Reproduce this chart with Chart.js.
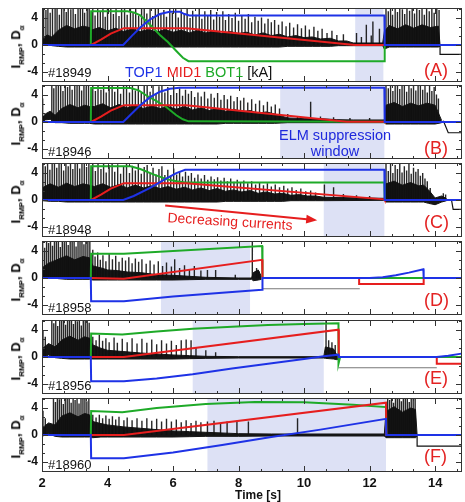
<!DOCTYPE html>
<html>
<head>
<meta charset="utf-8">
<script src="https://cdn.jsdelivr.net/npm/chart.js@4.4.1/dist/chart.umd.min.js"></script>
<style>
body { margin: 0; width: 465px; height: 502px; position: relative; overflow: hidden; background: #fff; font-family: "Liberation Sans", Arial, sans-serif; }
canvas { position: absolute; left: 0; }
.txt { position: absolute; white-space: nowrap; line-height: 1; transform: translateY(-50%); }
.shot { font-size: 13px; color: #111; left: 48px; }
.tag { font-size: 18px; color: #e32222; left: 424px; }
.ylab { position: absolute; left: 17px; font-size: 13px; font-weight: bold; white-space: nowrap; transform: translate(-50%, -50%) rotate(-90deg); }
.ylab sub { font-size: 8px; font-weight: bold; }
</style>
</head>
<body>

<script>
// ---- data (time in s, currents in kA, D-alpha in a.u.) ----
const xMajorTicks = [2, 4, 6, 8, 10, 12, 14];
const xMinorTicks = [2.67, 3.33, 4.67, 5.33, 6.67, 7.33, 8.67, 9.33, 10.67, 11.33, 12.67, 13.33, 14.67];
const yMajorTicks = [-4, 0, 4];
const yMinorTicks = [-5.33, -2.67, -1.33, 1.33, 2.67, 5.33];

const shots = ['#18949', '#18946', '#18948', '#18958', '#18956', '#18960'];
const tags = ['(A)', '(B)', '(C)', '(D)', '(E)', '(F)'];

// ELM suppression windows
const shadeA = [11.56, 12.42];
const shadeB = [9.27, 12.45];
const shadeC = [10.6, 12.45];
const shadeD = [5.63, 8.35];
const shadeE = [6.6, 10.6];
const shadeF = [7.05, 12.5];

// TOP1 (blue), MID1 (red), BOT1 (green) coil currents
const topA = [[2,0],[4.48,0],[4.75,1.4],[5.0,2.6],[5.3,3.8],[5.6,4.6],[5.9,4.95],[6.2,4.95],[6.35,4.6],[6.5,4.4],[12.45,4.4],[12.46,0],[14.8,0]];
const midA = [[2,0],[3.5,0],[3.8,0.8],[4.1,1.7],[4.5,2.5],[6.4,2.5],[11.55,0],[14.8,0]];
const botA = [[2,0],[3.49,0],[3.5,5],[4.6,5],[4.8,4.85],[5.0,4.4],[5.3,3.0],[5.6,1.5],[5.85,0.4],[6.1,-0.9],[6.3,-1.9],[6.47,-2.4],[12.45,-2.4],[12.46,0],[14.8,0]];

const topB = [[2,0],[4.48,0],[4.75,1.3],[5.0,2.5],[5.3,3.7],[5.6,4.5],[5.9,4.95],[6.2,5.1],[12.45,5.1],[12.46,0],[14.8,0]];
const midB = [[2,0],[3.5,0],[3.8,0.8],[4.1,1.7],[4.5,2.5],[6.4,2.5],[11.3,0.05],[12.45,0.05],[12.46,0],[14.8,0]];
const botB = [[2,0],[3.49,0],[3.5,5.05],[4.7,5.05],[4.95,4.7],[5.2,3.9],[5.5,3.1],[5.8,2.2],[6.1,1.0],[6.3,0.4],[6.47,0.1],[12.45,0.05],[12.46,0],[14.8,0]];

const topC = [[2,0],[4.48,0],[4.8,0.6],[5.3,1.8],[5.8,3.2],[6.1,4.0],[6.37,4.5],[12.45,4.5],[12.46,0],[14.8,0]];
const midC = [[2,0],[3.5,0],[3.8,0.8],[4.1,1.7],[4.5,2.5],[6.4,2.5],[12.45,0.1],[12.46,0],[14.8,0]];
const botC = [[2,0],[3.49,0],[3.5,5],[4.7,5],[5.0,4.6],[5.4,3.8],[5.8,3.1],[6.1,2.8],[6.37,2.6],[12.45,2.6],[12.46,0],[14.8,0]];

const topD = [[2,0],[3.49,0],[3.5,-3.45],[4.5,-3.45],[6.0,-2.75],[7.5,-2.2],[8.72,-1.75],[8.73,0],[12.0,0],[12.4,0.1],[12.8,0.4],[13.2,0.8],[13.64,1.3],[13.65,0],[14.8,0]];
const midD = [[2,0],[3.5,0],[4.5,-0.1],[8.72,2.7],[8.73,0],[11.68,0],[11.68,-0.9],[13.65,-0.9],[13.65,0],[14.8,0]];
const botD = [[2,0],[3.49,0],[3.5,3.6],[4.5,3.6],[8.72,4.75],[8.73,0],[14.8,0]];

const topE = [[2,0],[3.49,0],[3.5,-3.6],[4.5,-3.6],[5.5,-3.2],[6.6,-2.55],[7.8,-1.7],[8.9,-1.0],[10.0,-0.3],[10.6,0.1],[11.05,0.35],[11.06,0],[14.05,0],[14.4,0.2],[14.8,0.5]];
const midE = [[2,0],[3.5,0],[4.5,0],[11.05,4.05],[11.06,0],[14.05,0],[14.05,-1.0],[14.8,-1.0]];
const botE = [[2,0],[3.49,0],[3.5,3.5],[4.45,3.35],[5.5,3.8],[6.6,4.2],[7.8,4.5],[8.9,4.75],[10.0,4.9],[11.05,5.0],[11.05,-1.0],[11.1,0],[14.8,0]];

const topF = [[2,0],[3.49,0],[3.5,-3.45],[4.5,-3.45],[6.0,-2.6],[7.5,-1.5],[9.0,-0.3],[10.5,0.8],[12.5,2.4],[12.51,0],[14.8,0]];
const midF = [[2,0],[3.5,0],[4.5,0],[12.5,4.8],[12.51,0],[14.8,0]];
const botF = [[2,0],[3.49,0],[3.5,3.55],[4.45,3.4],[5.5,4.0],[7.0,4.6],[8.5,4.9],[10.0,4.85],[11.5,4.5],[12.5,4.15],[12.51,0],[14.8,0]];

// D-alpha: dense band [t, low, high]
const bandA = [[2.0,-0.1,0.6],[2.15,0.2,1.5],[2.3,-0.1,1.2],[2.5,-0.2,2.2],[2.75,-0.3,2.9],[3.0,-0.3,2.4],[3.25,-0.3,2.8],[3.45,-0.3,2.6],[3.5,-0.3,2.2],[3.75,-0.3,2.6],[4.0,-0.3,2.1],[4.25,-0.3,2.5],[4.5,-0.3,2.0],[4.75,-0.3,2.4],[5.0,-0.3,2.0],[5.25,-0.3,2.3],[5.5,-0.3,1.9],[5.75,-0.3,2.3],[6.0,-0.3,1.9],[6.25,-0.3,2.2],[6.5,-0.3,1.8],[6.75,-0.3,2.2],[7.0,-0.3,1.8],[7.25,-0.3,2.1],[7.5,-0.3,1.7],[7.75,-0.3,2.0],[8.0,-0.3,1.7],[8.25,-0.3,1.9],[8.5,-0.3,1.5],[8.75,-0.3,1.8],[9.0,-0.3,1.4],[9.25,-0.3,1.6],[9.5,-0.2,1.2],[9.75,-0.2,1.4],[10.0,-0.2,1.1],[10.25,-0.2,1.2],[10.5,-0.2,0.9],[10.8,-0.2,1.0],[11.05,-0.1,0.6],[11.3,-0.1,0.6],[11.5,-0.1,0.3],[12.4,-0.1,0.3],[12.45,-0.6,2.0],[12.6,-0.3,2.9],[12.85,-0.3,2.4],[13.1,-0.3,3.0],[13.35,-0.3,2.5],[13.6,-0.3,3.0],[13.85,-0.3,2.6],[14.1,-0.3,2.8],[14.15,-0.2,0]];
const bandB = [[2.0,0,0.5],[2.1,0.3,1.2],[2.25,0.4,1.6],[2.4,-0.1,1.0],[2.6,-0.1,2.0],[2.85,-0.2,2.6],[3.1,-0.2,2.1],[3.3,-0.2,2.5],[3.45,-0.2,2.3],[3.6,-0.3,2.3],[3.85,-0.3,2.7],[4.1,-0.3,2.1],[4.35,-0.3,2.6],[4.6,-0.3,2.1],[4.85,-0.3,2.5],[5.1,-0.3,2.0],[5.35,-0.3,2.4],[5.6,-0.3,2.0],[5.85,-0.3,2.3],[6.1,-0.3,1.9],[6.35,-0.3,2.3],[6.6,-0.3,1.8],[6.85,-0.3,2.1],[7.1,-0.3,1.7],[7.35,-0.3,2.0],[7.6,-0.2,1.6],[7.85,-0.2,1.9],[8.1,-0.2,1.5],[8.35,-0.2,1.7],[8.6,-0.2,1.3],[8.85,-0.2,1.5],[9.1,-0.2,1.2],[9.3,-0.15,0.9],[9.5,-0.1,0.6],[10.0,-0.1,0.5],[10.5,-0.1,0.5],[11.0,-0.1,0.35],[11.5,-0.1,0.3],[12.45,-0.1,0.3],[12.5,-0.3,2.5],[12.75,-0.3,2.9],[13.0,-0.3,2.3],[13.25,-0.3,2.8],[13.5,-0.3,2.4],[13.75,-0.3,2.8],[14.0,-0.3,2.5],[14.2,-0.1,0.2]];
const bandC = [[2.0,-0.1,1.8],[2.25,-0.2,2.4],[2.5,-0.2,1.9],[2.75,-0.3,2.5],[3.0,-0.3,2.0],[3.25,-0.3,2.4],[3.45,-0.3,2.2],[3.6,-0.3,2.0],[3.85,-0.3,2.4],[4.1,-0.3,1.9],[4.35,-0.3,2.3],[4.6,-0.3,1.8],[4.85,-0.3,2.2],[5.1,-0.3,1.8],[5.35,-0.3,2.1],[5.6,-0.3,1.7],[5.85,-0.3,2.0],[6.1,-0.3,1.6],[6.35,-0.3,1.9],[6.6,-0.3,1.5],[6.85,-0.3,1.8],[7.1,-0.3,1.4],[7.35,-0.3,1.7],[7.6,-0.2,1.3],[7.85,-0.2,1.5],[8.1,-0.2,1.2],[8.35,-0.2,1.4],[8.6,-0.2,1.0],[8.85,-0.2,1.2],[9.1,-0.2,0.9],[9.35,-0.2,1.0],[9.6,-0.1,0.7],[9.85,-0.1,0.8],[10.1,-0.1,0.6],[10.35,-0.1,0.6],[10.6,-0.1,0.4],[12.45,-0.05,0.25],[12.5,-0.3,2.4],[12.75,-0.3,2.8],[13.0,-0.3,2.2],[13.25,-0.3,2.6],[13.5,-0.3,2.1],[13.65,-0.3,2.2],[13.8,-0.5,1.5],[14.0,-0.7,0.3],[14.2,-0.3,0.6],[14.35,-0.1,0.2]];
const bandD = [[2.0,-0.1,1.5],[2.2,0.2,2.2],[2.5,-0.1,2.8],[2.75,-0.2,3.3],[3.0,-0.2,2.7],[3.25,-0.2,3.2],[3.45,-0.2,3.0],[3.55,-0.3,1.8],[3.8,-0.3,1.5],[4.0,-0.3,1.2],[4.3,-0.3,1.1],[4.6,-0.3,0.9],[5.0,-0.3,0.8],[5.5,-0.3,0.5],[6.0,-0.3,0.4],[6.5,-0.25,0.25],[7.0,-0.2,0.1],[8.0,-0.2,0.0],[8.4,-0.2,0.0],[8.45,-0.4,0.8],[8.6,-0.3,1.2],[8.7,-0.2,0.2]];
const bandE = [[2.0,-0.1,1.2],[2.2,0.3,2.0],[2.4,-0.1,1.5],[2.6,-0.2,2.5],[2.85,-0.3,3.1],[3.1,-0.3,2.5],[3.3,-0.3,3.0],[3.45,-0.3,2.8],[3.55,-0.3,1.8],[3.8,-0.3,1.3],[4.0,-0.3,1.0],[4.5,-0.3,0.8],[5.0,-0.3,0.6],[5.5,-0.3,0.45],[6.0,-0.3,0.3],[6.5,-0.25,0.2],[7.0,-0.2,0.1],[8.0,-0.15,0.05],[10.6,-0.15,0.05],[10.65,-0.2,1.5],[10.9,-0.3,1.2],[11.0,-0.4,0.3],[11.05,-0.3,0]];
const bandF = [[2.0,-0.2,1.0],[2.2,0.2,1.8],[2.4,-0.2,1.5],[2.6,-0.3,2.8],[2.85,-0.3,3.3],[3.1,-0.3,2.7],[3.3,-0.3,3.2],[3.45,-0.3,3.0],[3.55,-0.4,2.0],[3.8,-0.3,1.7],[4.0,-0.3,1.5],[4.5,-0.3,1.2],[5.0,-0.3,1.0],[5.5,-0.3,0.8],[6.0,-0.3,0.6],[6.5,-0.25,0.5],[7.0,-0.2,0.4],[8.0,-0.2,0.2],[9.0,-0.15,0.15],[12.45,-0.15,0.15],[12.5,-0.4,3.5],[12.75,-0.4,4.2],[13.0,-0.4,3.4],[13.25,-0.4,4.0],[13.4,-0.4,3.8],[13.45,-0.2,0]];

// D-alpha: ELM spikes [t, peak]
const spikesA = [[2.05,6],[2.12,5.2],[2.18,6],[2.25,4.8],[2.32,6],[2.4,5.5],[2.46,6],[2.53,4.5],[2.6,6],[2.67,5.8],[2.74,4.9],[2.8,6],[2.88,5.3],[2.95,6],[3.02,4.6],[3.1,6],[3.17,5.5],[3.24,6],[3.3,4.8],[3.38,6],[3.44,5.6],
  [3.55,6],[3.62,4.4],[3.7,5.8],[3.78,4.9],[3.86,6],[3.93,4.2],[4.0,5.5],[4.1,6],[4.18,4.6],[4.26,5.9],[4.35,4.3],[4.43,5.6],[4.52,6],[4.6,4.5],[4.7,5.7],[4.78,4.9],[4.86,6],[4.95,4.4],[5.04,5.5],[5.12,6],[5.2,4.7],[5.3,5.8],[5.38,4.3],[5.46,5.4],[5.55,6],[5.63,4.6],[5.72,5.2],[5.8,4.2],[5.9,5.7],[5.98,4.8],
  [6.08,5.5],[6.16,4.1],[6.25,5.3],[6.34,4.6],[6.43,5.6],[6.52,4.0],[6.6,5.1],[6.7,4.5],[6.8,5.4],[6.88,3.9],[6.97,5.0],[7.06,4.4],[7.15,5.2],[7.24,3.8],[7.33,4.9],[7.42,4.2],[7.52,5.0],[7.6,3.7],[7.7,4.6],[7.8,4.0],[7.9,4.8],[8.0,3.6],[8.1,4.4],[8.2,3.9],[8.3,4.6],[8.4,3.4],[8.5,4.2],[8.6,3.6],[8.7,4.1],[8.8,3.2],[8.9,3.9],
  [9.0,3.4],[9.1,3.7],[9.22,3.0],[9.33,3.5],[9.45,2.8],[9.56,3.3],[9.68,2.6],[9.8,3.1],[9.92,2.5],[10.04,2.9],[10.16,2.3],[10.3,2.7],[10.42,2.1],[10.55,2.4],[10.7,1.8],[10.85,2.1],[11.0,1.5],[11.2,1.6],[11.6,1.8],[11.75,1.2],[11.9,3.0],[12.05,1.4],[12.1,3.5],[12.3,2.4],
  [12.5,6],[12.57,5.0],[12.64,6],[12.7,4.5],[12.78,5.8],[12.85,4.9],[12.92,6],[13.0,5.3],[13.07,4.6],[13.14,6],[13.22,5.1],[13.3,5.8],[13.37,4.7],[13.44,6],[13.52,5.2],[13.6,5.7],[13.67,4.5],[13.74,6],[13.82,5.0],[13.9,5.6],[13.97,4.8],[14.05,5.9],[14.12,5.2]];
const spikesB = [[2.02,3.5],[2.3,6],[2.36,5.0],[2.43,6],[2.5,5.4],[2.57,6],[2.64,4.6],[2.71,6],[2.78,5.2],[2.85,6],[2.92,4.8],[3.0,6],[3.07,5.5],[3.14,6],[3.21,4.7],[3.28,6],[3.35,5.3],[3.42,6],
  [3.55,6],[3.63,4.6],[3.71,5.8],[3.8,4.8],[3.88,6],[3.96,4.4],[4.05,5.6],[4.14,6],[4.22,4.5],[4.31,5.7],[4.4,4.2],[4.49,5.5],[4.58,6],[4.67,4.4],[4.76,5.6],[4.85,4.7],[4.94,6],[5.03,4.3],[5.12,5.4],[5.21,5.9],[5.3,4.5],[5.39,5.6],[5.48,4.2],[5.57,5.3],[5.66,5.8],[5.75,4.4],[5.84,5.2],[5.93,4.0],
  [6.02,5.5],[6.11,4.3],[6.2,5.0],[6.29,3.9],[6.38,4.8],[6.47,4.2],[6.56,4.6],[6.66,3.7],[6.76,4.4],[6.86,3.8],[6.96,4.5],[7.06,3.5],[7.16,4.2],[7.26,3.6],[7.36,4.3],[7.46,3.3],[7.56,4.0],[7.66,3.4],[7.76,3.9],[7.86,3.1],[7.96,3.7],[8.06,3.2],[8.16,3.6],[8.28,2.9],[8.4,3.4],[8.52,2.7],[8.64,3.2],[8.76,2.5],[8.88,3.0],
  [9.0,2.3],[9.12,2.6],[9.25,2.0],[9.5,1.2],[9.8,0.9],[10.2,3.0],[10.5,0.8],[10.9,0.7],[11.4,0.6],[12.0,0.6],
  [12.5,6],[12.57,5.0],[12.64,6],[12.71,4.6],[12.78,5.7],[12.85,6],[12.92,4.9],[12.99,5.5],[13.06,6],[13.13,4.5],[13.2,5.8],[13.27,5.0],[13.34,6],[13.41,4.7],[13.48,5.6],[13.55,6],[13.62,4.8],[13.69,5.4],[13.76,4.4],[13.83,5.9],[13.9,4.6],[13.97,5.2],[14.04,4.1],[14.1,3.5]];
const spikesC = [[2.03,6],[2.1,5.0],[2.17,6],[2.24,4.5],[2.31,5.7],[2.38,6],[2.45,4.8],[2.52,5.5],[2.59,6],[2.66,4.4],[2.73,5.8],[2.8,5.0],[2.87,6],[2.94,4.6],[3.01,5.4],[3.08,6],[3.15,4.7],[3.22,5.6],[3.29,6],[3.36,4.9],[3.43,5.5],
  [3.55,5.8],[3.63,4.3],[3.71,5.4],[3.8,4.6],[3.88,5.7],[3.96,4.1],[4.05,5.2],[4.14,5.6],[4.22,4.2],[4.31,5.3],[4.4,3.9],[4.49,5.0],[4.58,5.5],[4.67,4.0],[4.76,5.1],[4.85,4.4],[4.94,5.4],[5.03,3.9],[5.12,4.9],[5.21,5.2],[5.3,4.0],[5.39,4.8],[5.48,3.8],[5.57,4.6],[5.66,5.0],[5.75,3.7],[5.84,4.5],[5.93,3.6],
  [6.02,4.7],[6.11,3.8],[6.2,4.3],[6.29,3.5],[6.38,4.2],[6.47,3.6],[6.56,4.0],[6.66,3.3],[6.76,3.8],[6.86,3.2],[6.96,3.7],[7.06,3.0],[7.16,3.5],[7.26,3.1],[7.36,3.4],[7.46,2.9],[7.56,3.3],[7.66,2.8],[7.76,3.2],[7.86,2.7],[7.96,3.0],[8.06,2.6],[8.16,2.9],[8.28,2.5],[8.4,2.8],[8.52,2.3],[8.64,2.6],[8.76,2.2],[8.88,2.5],
  [9.0,2.0],[9.12,2.3],[9.25,1.9],[9.38,2.1],[9.5,1.7],[9.63,1.9],[9.76,1.5],[9.9,1.7],[10.05,1.3],[10.2,1.4],[10.35,1.1],[10.62,2.3],[10.9,1.9],[11.2,0.9],[11.6,0.7],[12.0,0.6],
  [12.5,5.5],[12.57,4.3],[12.64,5.8],[12.71,4.0],[12.78,5.2],[12.85,4.6],[12.92,5.6],[12.99,4.1],[13.06,5.0],[13.13,4.4],[13.2,5.4],[13.27,3.9],[13.34,4.8],[13.41,4.2],[13.48,4.6],[13.55,3.6],[13.62,4.0],[13.69,3.2],[13.76,2.8],[13.85,1.8],[14.25,1.0],[14.32,0.8]];
const spikesD = [[2.02,6],[2.08,4.5],[2.14,6],[2.2,5.2],[2.26,6],[2.32,4.8],[2.38,6],[2.44,5.5],[2.5,6],[2.56,4.6],[2.62,6],[2.68,5.3],[2.74,6],[2.8,4.9],[2.86,6],[2.92,5.6],[2.98,6],[3.04,4.7],[3.1,6],[3.16,5.4],[3.22,6],[3.28,5.0],[3.34,6],[3.4,5.7],[3.46,6],
  [3.55,4.2],[3.62,3.2],[3.7,3.8],[3.78,2.7],[3.86,3.4],[3.95,2.5],[4.05,3.6],[4.15,2.8],[4.25,3.3],[4.35,2.4],[4.45,3.0],[4.55,2.6],[4.65,3.1],[4.75,2.2],[4.85,2.9],[4.95,2.4],[5.05,2.8],[5.18,2.1],[5.3,2.6],[5.42,2.0],[5.55,2.5],[5.68,1.8],[5.8,2.3],[5.95,1.7],[6.05,2.8],[6.2,1.5],[6.35,1.9],[6.5,1.3],[6.65,1.8],[6.85,1.1],[7.05,1.2],[7.3,1.2],[7.9,0.5],[8.42,6],[8.55,1.5],[8.62,1.0]];
const spikesE = [[2.03,4.0],[2.1,3.0],[2.3,6],[2.36,5.0],[2.42,6],[2.48,4.6],[2.54,6],[2.6,5.4],[2.66,6],[2.72,4.8],[2.78,6],[2.84,5.5],[2.9,6],[2.96,4.9],[3.02,6],[3.08,5.3],[3.14,6],[3.2,4.7],[3.26,6],[3.32,5.6],[3.38,6],[3.44,5.1],
  [3.55,3.0],[3.65,2.5],[3.75,3.3],[3.85,2.4],[3.95,2.8],[4.05,2.2],[4.2,2.9],[4.3,2.1],[4.45,2.7],[4.6,2.2],[4.75,2.8],[4.9,2.0],[5.05,2.7],[5.2,2.1],[5.35,2.6],[5.5,1.9],[5.65,2.5],[5.8,2.0],[5.95,2.4],[6.1,1.8],[6.25,2.5],[6.4,2.6],[6.55,2.5],[6.7,1.4],[7.0,1.0],[7.3,0.7],[10.67,5.5],[10.75,2.5],[10.85,2.2],[10.95,1.8]];
const spikesF = [[2.03,3.6],[2.1,2.5],[2.35,6],[2.41,4.9],[2.47,6],[2.53,5.3],[2.59,6],[2.65,4.6],[2.71,6],[2.77,5.5],[2.83,6],[2.89,4.8],[2.95,6],[3.01,5.2],[3.07,6],[3.13,4.7],[3.19,6],[3.25,5.6],[3.31,6],[3.37,5.0],[3.43,6],
  [3.55,3.0],[3.65,2.6],[3.75,3.0],[3.85,2.5],[3.95,2.9],[4.05,2.4],[4.15,2.8],[4.25,2.3],[4.35,2.7],[4.5,2.2],[4.6,2.6],[4.75,2.2],[4.9,2.5],[5.05,2.1],[5.2,2.5],[5.35,2.1],[5.5,2.4],[5.65,2.0],[5.8,2.4],[5.95,2.0],[6.1,2.3],[6.25,1.9],[6.4,2.2],[6.55,1.8],[6.7,2.1],[6.85,1.9],[7.05,2.0],[7.25,2.1],[7.45,1.8],[7.65,2.0],[7.95,2.1],[8.3,2.0],[9.8,2.5],
  [12.55,6],[12.61,5.2],[12.67,6],[12.73,4.8],[12.79,6],[12.85,5.5],[12.91,6],[12.97,5.0],[13.03,6],[13.09,5.4],[13.15,6],[13.21,4.9],[13.27,6],[13.33,5.6],[13.39,6]];

// D-alpha after the discharge ends
const tailA = [[14.15,0],[14.15,-1.4],[14.8,-1.4]];
const tailB = [[14.25,0.2],[14.4,-1.6],[14.8,-1.6]];
const tailC = [[14.5,0],[14.55,-1.4],[14.8,-1.4]];
const tailD = [[8.72,-1.6],[11.7,-1.6]];
const tailE = [[11.05,-1.6],[14.05,-1.6]];
const tailF = [[13.45,0],[13.45,-1.65],[14.8,-1.65]];

// arrow "Decreasing currents" in panel C
const arrowC = [[5.76,-0.8],[10.4,-3.0]];

// ---- layout ----
const BLUE = 'rgb(30,50,230)';
const RED = 'rgb(230,30,30)';
const GREEN = 'rgb(30,170,40)';
const SHADE = '#dde1f5';

const panels = [
  { top: 8,   top_: topA, mid: midA, bot: botA, band: bandA, spikes: spikesA, tail: tailA, tailColor: '#111', shade: shadeA, shotY: 72,  tagY: 70 },
  { top: 85,  top_: topB, mid: midB, bot: botB, band: bandB, spikes: spikesB, tail: tailB, tailColor: '#111', shade: shadeB, shotY: 151, tagY: 148 },
  { top: 163, top_: topC, mid: midC, bot: botC, band: bandC, spikes: spikesC, tail: tailC, tailColor: '#111', shade: shadeC, shotY: 229, tagY: 222 },
  { top: 241, top_: topD, mid: midD, bot: botD, band: bandD, spikes: spikesD, tail: tailD, tailColor: '#777', shade: shadeD, shotY: 307, tagY: 300 },
  { top: 320, top_: topE, mid: midE, bot: botE, band: bandE, spikes: spikesE, tail: tailE, tailColor: '#777', shade: shadeE, shotY: 385, tagY: 378 },
  { top: 398, top_: topF, mid: midF, bot: botF, band: bandF, spikes: spikesF, tail: tailF, tailColor: '#111', shade: shadeF, shotY: 464, tagY: 456 }
];
const PANEL_H = 74;

function pts(pairs) {
  return pairs.map(p => ({ x: p[0], y: p[1] }));
}

function spikePts(pairs) {
  const out = [];
  pairs.forEach(([t, h]) => {
    out.push({ x: t, y: 0 }, { x: t, y: h }, { x: t, y: null });
  });
  return out;
}

function lineDs(data, color, width) {
  return { data, borderColor: color, borderWidth: width, pointRadius: 0, fill: false, tension: 0, spanGaps: false };
}

// shaded suppression window, drawn behind everything
const shadePlugin = {
  id: 'shadeWindow',
  beforeDatasetsDraw(chart) {
    const { ctx, chartArea: a, scales: { x } } = chart;
    const s = chart.options.plugins.shadeWindow.range;
    const x0 = x.getPixelForValue(s[0]);
    const x1 = x.getPixelForValue(s[1]);
    ctx.save();
    ctx.fillStyle = SHADE;
    ctx.fillRect(x0, a.top, x1 - x0, a.bottom - a.top);
    ctx.restore();
  }
};

// IDL-style box with inward ticks on all four sides
const frameTicks = {
  id: 'frameTicks',
  afterDatasetsDraw(chart) {
    const { ctx, chartArea: a, scales: { x, y } } = chart;
    ctx.save();
    ctx.strokeStyle = '#333';
    ctx.lineWidth = 1;
    ctx.strokeRect(a.left + 0.5, a.top + 0.5, a.right - a.left - 1, a.bottom - a.top - 1);
    ctx.beginPath();
    const xt = (v, len) => {
      const px = Math.round(x.getPixelForValue(v)) + 0.5;
      ctx.moveTo(px, a.bottom); ctx.lineTo(px, a.bottom - len);
      ctx.moveTo(px, a.top); ctx.lineTo(px, a.top + len);
    };
    const yt = (v, len) => {
      const py = Math.round(y.getPixelForValue(v)) + 0.5;
      ctx.moveTo(a.left, py); ctx.lineTo(a.left + len, py);
      ctx.moveTo(a.right, py); ctx.lineTo(a.right - len, py);
    };
    xMajorTicks.forEach(v => xt(v, 6));
    xMinorTicks.forEach(v => xt(v, 3));
    yMajorTicks.forEach(v => yt(v, 6));
    yMinorTicks.forEach(v => yt(v, 3));
    ctx.stroke();
    ctx.restore();
  }
};

const arrowPlugin = {
  id: 'arrowC',
  afterDatasetsDraw(chart) {
    const { ctx, scales: { x, y } } = chart;
    const x0 = x.getPixelForValue(arrowC[0][0]), y0 = y.getPixelForValue(arrowC[0][1]);
    const x1 = x.getPixelForValue(arrowC[1][0]), y1 = y.getPixelForValue(arrowC[1][1]);
    const ang = Math.atan2(y1 - y0, x1 - x0);
    ctx.save();
    ctx.strokeStyle = RED;
    ctx.fillStyle = RED;
    ctx.lineWidth = 2;
    ctx.beginPath();
    ctx.moveTo(x0, y0);
    ctx.lineTo(x1 - 8 * Math.cos(ang), y1 - 8 * Math.sin(ang));
    ctx.stroke();
    ctx.beginPath();
    ctx.moveTo(x1, y1);
    ctx.lineTo(x1 - 11 * Math.cos(ang) + 4.5 * Math.sin(ang), y1 - 11 * Math.sin(ang) - 4.5 * Math.cos(ang));
    ctx.lineTo(x1 - 11 * Math.cos(ang) - 4.5 * Math.sin(ang), y1 - 11 * Math.sin(ang) + 4.5 * Math.cos(ang));
    ctx.closePath();
    ctx.fill();
    ctx.restore();
  }
};

const tickFont = { family: '"Liberation Sans", Arial, sans-serif', size: 12, weight: 'bold' };

panels.forEach((p, i) => {
  const last = i === panels.length - 1;
  const canvas = document.createElement('canvas');
  const h = last ? 105 : PANEL_H + 2;
  canvas.width = 465;
  canvas.height = h;
  canvas.style.top = (p.top - 1) + 'px';
  document.body.appendChild(canvas);

  const bandHi = p.band.map(b => ({ x: b[0], y: b[2] }));
  const bandLo = p.band.map(b => ({ x: b[0], y: b[1] }));

  // first dataset is drawn on top
  const datasets = [
    lineDs(pts(p.top_), BLUE, 2),
    lineDs(pts(p.mid), RED, 2),
    lineDs(pts(p.bot), GREEN, 2),
    lineDs(pts(p.tail), p.tailColor, 1.2),
    lineDs(spikePts(p.spikes), 'rgba(15,15,15,0.9)', 1.4),
    Object.assign(lineDs(bandHi, '#151515', 1), { fill: '+1', backgroundColor: '#151515' }),
    lineDs(bandLo, '#151515', 1)
  ];

  const plugins = [shadePlugin, frameTicks];
  if (i === 2) plugins.push(arrowPlugin);

  new Chart(canvas, {
    type: 'line',
    data: { datasets },
    plugins,
    options: {
      responsive: false,
      animation: false,
      devicePixelRatio: 1,
      events: [],
      layout: { padding: { top: 1, bottom: last ? 10 : 1, left: 0, right: 3 } },
      plugins: {
        legend: { display: false },
        tooltip: { enabled: false },
        shadeWindow: { range: p.shade }
      },
      scales: {
        x: {
          type: 'linear',
          min: 2,
          max: 14.82,
          display: last,
          grid: { display: false, drawTicks: false },
          border: { display: false },
          afterBuildTicks: s => { s.ticks = xMajorTicks.map(v => ({ value: v })); },
          afterFit: s => {
            s.height = last ? 20 : 0;
            s.paddingLeft = 0;
            s.paddingRight = 0;
          },
          ticks: { font: { family: tickFont.family, size: 13, weight: 'bold' }, color: '#111', padding: 4, maxRotation: 0, autoSkip: false }
        },
        y: {
          min: -5.5,
          max: 5.5,
          grid: { display: false, drawTicks: false },
          border: { display: false },
          afterBuildTicks: s => { s.ticks = yMajorTicks.map(v => ({ value: v })); },
          afterFit: s => {
            s.width = 42;
            s.paddingTop = 0;
            s.paddingBottom = 0;
          },
          ticks: { font: tickFont, color: '#111', padding: 4 }
        }
      }
    }
  });

  // per-panel text
  const shot = document.createElement('div');
  shot.className = 'txt shot';
  shot.style.top = p.shotY + 'px';
  shot.textContent = shots[i];
  document.body.appendChild(shot);

  const tag = document.createElement('div');
  tag.className = 'txt tag';
  tag.style.top = p.tagY + 'px';
  tag.textContent = tags[i];
  document.body.appendChild(tag);

  const yl = document.createElement('div');
  yl.className = 'ylab';
  yl.style.top = (p.top + PANEL_H / 2 + 2) + 'px';
  yl.innerHTML = 'I<sub>RMP</sub>, D<sub>α</sub>';
  document.body.appendChild(yl);
});
</script>

<div class="txt" style="left:125px; top:72px; font-size:14.5px;"><span style="color:rgb(30,50,230)">TOP1</span> <span style="color:rgb(230,30,30)">MID1</span> <span style="color:rgb(30,170,40)">BOT1</span> <span style="color:#111">[kA]</span></div>
<div class="txt" style="left:335px; top:135px; font-size:14.5px; color:rgb(30,40,220); transform:translate(-50%,-50%);">ELM suppression</div>
<div class="txt" style="left:335px; top:151px; font-size:14.5px; color:rgb(30,40,220); transform:translate(-50%,-50%);">window</div>
<div class="txt" style="left:230px; top:221px; font-size:14px; color:rgb(230,30,30); transform:translate(-50%,-50%) rotate(3.5deg);">Decreasing currents</div>
<div class="txt" style="left:258px; top:495px; font-size:12px; font-weight:bold; color:#111; transform:translate(-50%,-50%);">Time [s]</div>

</body>
</html>
